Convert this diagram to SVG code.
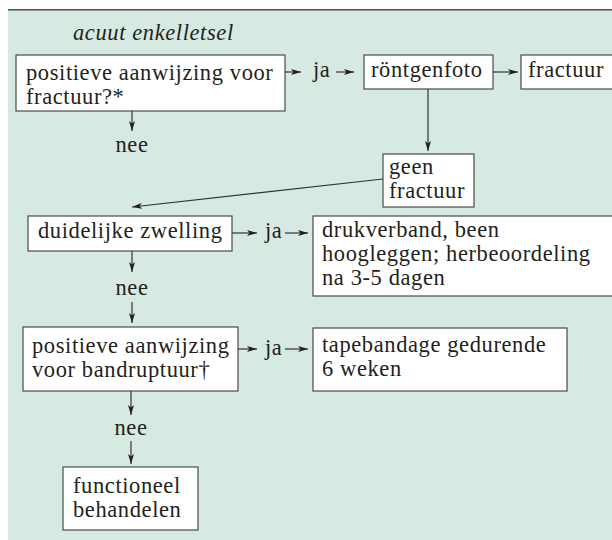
<svg xmlns="http://www.w3.org/2000/svg" width="612" height="540" viewBox="0 0 612 540">
<style>
.box{fill:#fff;stroke:#4a4a4a;stroke-width:1.2}
.t{font-family:"Liberation Serif","Times New Roman",serif;font-size:22.5px;letter-spacing:0.6px;fill:#231f20}
.c{stroke:#333;stroke-width:1.2;fill:none;marker-end:url(#ah)}
</style>
<defs>
<marker id="ah" viewBox="0 0 10 6" refX="10" refY="3" markerWidth="10" markerHeight="6" markerUnits="userSpaceOnUse" orient="auto">
<path d="M0,0 L10,3 L0,6 L2.5,3 Z" fill="#231f20"/>
</marker>
</defs>
<rect x="0" y="0" width="612" height="540" fill="#fff"/>
<rect x="8" y="10" width="604" height="530" fill="#d7eae1"/>
<line x1="8" y1="9.8" x2="612" y2="9.8" stroke="#4d4d4d" stroke-width="1.6"/>
<text class="t" x="73" y="40" font-style="italic" font-size="23" letter-spacing="0">acuut enkelletsel</text>

<g id="n1"><rect class="box" x="16" y="55" width="269" height="56"/>
<text class="t" x="26" y="80">positieve aanwijzing voor</text>
<text class="t" x="26" y="104">fractuur?*</text></g>

<g id="n2"><rect class="box" x="364" y="55" width="129" height="34"/>
<text class="t" x="371" y="77">röntgenfoto</text></g>

<g id="n3"><rect class="box" x="521" y="55" width="96" height="34"/>
<text class="t" x="528" y="77">fractuur</text></g>

<g id="n4"><rect class="box" x="383" y="154" width="91" height="53"/>
<text class="t" x="389" y="174">geen</text>
<text class="t" x="389" y="198">fractuur</text></g>

<g id="n5"><rect class="box" x="28" y="216" width="204" height="35"/>
<text class="t" x="38" y="238">duidelijke zwelling</text></g>

<g id="n6"><rect class="box" x="313" y="216" width="304" height="80"/>
<text class="t" x="322" y="237">drukverband, been</text>
<text class="t" x="322" y="261">hoogleggen; herbeoordeling</text>
<text class="t" x="322" y="285">na 3-5 dagen</text></g>

<g id="n7"><rect class="box" x="23" y="327" width="215" height="64"/>
<text class="t" x="32" y="353">positieve aanwijzing</text>
<text class="t" x="32" y="377">voor bandruptuur†</text></g>

<g id="n8"><rect class="box" x="313" y="328" width="254" height="63"/>
<text class="t" x="322" y="352">tapebandage gedurende</text>
<text class="t" x="322" y="376">6 weken</text></g>

<g id="n9"><rect class="box" x="63" y="467" width="135" height="63"/>
<text class="t" x="73" y="493">functioneel</text>
<text class="t" x="73" y="517">behandelen</text></g>

<g id="labels">
<text class="t" x="313" y="77">ja</text>
<text class="t" x="265" y="238">ja</text>
<text class="t" x="265" y="355">ja</text>
<text class="t" x="132" y="152" text-anchor="middle">nee</text>
<text class="t" x="132" y="295" text-anchor="middle">nee</text>
<text class="t" x="131" y="435" text-anchor="middle">nee</text>
</g>

<g id="connectors">
<line class="c" x1="285" y1="72" x2="301" y2="72"/>
<line class="c" x1="336" y1="72" x2="354" y2="72"/>
<line class="c" x1="493" y1="72" x2="518" y2="72"/>
<line class="c" x1="428" y1="89" x2="428" y2="151"/>
<line class="c" x1="383" y1="179" x2="132" y2="207"/>
<line class="c" x1="132" y1="111" x2="132" y2="131"/>
<line class="c" x1="232" y1="233" x2="257" y2="233"/>
<line class="c" x1="285" y1="233" x2="308" y2="233"/>
<line class="c" x1="132" y1="251" x2="132" y2="272"/>
<line class="c" x1="132" y1="302" x2="132" y2="323"/>
<line class="c" x1="238" y1="349" x2="257" y2="349"/>
<line class="c" x1="285" y1="349" x2="308" y2="349"/>
<line class="c" x1="131" y1="391" x2="131" y2="415"/>
<line class="c" x1="131" y1="441" x2="131" y2="464"/>
</g>
</svg>
